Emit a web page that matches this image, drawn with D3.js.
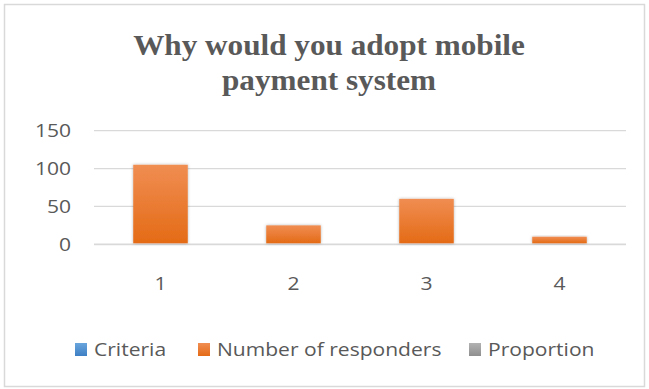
<!DOCTYPE html>
<html>
<head>
<meta charset="utf-8">
<script src="https://cdn.jsdelivr.net/npm/d3@7"></script>
<style>
  body { margin: 0; background: #ffffff; }
</style>
</head>
<body>
<svg id="chart" width="649" height="389"></svg>
<script>
var categories = ['1', '2', '3', '4'];
var responders = [105, 25, 60, 10];
var yTicks = [0, 50, 100, 150];
var legendNames = ['Criteria', 'Number of responders', 'Proportion'];
var titleLines = ['Why would you adopt mobile', 'payment system'];

var svg = d3.select('#chart');
var width = +svg.attr('width');
var height = +svg.attr('height');

var defs = svg.append('defs');

function addGradient(id, top, bottom) {
  var g = defs.append('linearGradient')
    .attr('id', id)
    .attr('x1', 0).attr('y1', 0)
    .attr('x2', 0).attr('y2', 1);
  g.append('stop').attr('offset', '0%').attr('stop-color', top);
  g.append('stop').attr('offset', '100%').attr('stop-color', bottom);
}
addGradient('grad-blue', '#6aa5dd', '#3d7fc4');
addGradient('grad-orange', '#f08d52', '#e46b16');
addGradient('grad-gray', '#b2b2b2', '#8f8f8f');

var shadow = defs.append('filter')
  .attr('id', 'shadow')
  .attr('x', '-20%').attr('y', '-20%')
  .attr('width', '140%').attr('height', '140%');
shadow.append('feDropShadow')
  .attr('dx', 0).attr('dy', 0)
  .attr('stdDeviation', 1.5)
  .attr('flood-color', '#000000')
  .attr('flood-opacity', 0.3);

// outer frame
svg.append('rect')
  .attr('x', 4.5)
  .attr('y', 4.5)
  .attr('width', 640)
  .attr('height', 382)
  .style('fill', '#ffffff')
  .style('stroke', '#d9d9d9')
  .style('stroke-width', 1.5);

// title (source picture is slightly stretched sideways)
svg.append('g')
  .attr('transform', 'translate(329,55) scale(1.04,1)')
  .append('text')
  .attr('class', 'title-text')
  .style('text-anchor', 'middle')
  .style('font-family', '"Liberation Serif", "Times New Roman", serif')
  .style('font-size', '30px')
  .style('font-weight', 'bold')
  .style('fill', '#595959')
  .selectAll('tspan')
  .data(titleLines)
  .enter().append('tspan')
  .attr('x', 0)
  .attr('dy', function(d, i) { return i === 0 ? 0 : 35; })
  .text(function(d) { return d; });

var x = d3.scaleBand()
  .domain(categories)
  .range([94, 626])
  .paddingInner(0.59)
  .paddingOuter(0.295);

var y = d3.scaleLinear()
  .domain([0, 150])
  .range([244.3, 130.7]);

// gridlines
svg.selectAll('.grid-line')
  .data(yTicks)
  .enter().append('line')
  .attr('class', 'grid-line')
  .attr('x1', 94)
  .attr('x2', 626)
  .attr('y1', function(d) { return y(d); })
  .attr('y2', function(d) { return y(d); })
  .style('stroke', '#d9d9d9')
  .style('stroke-width', function(d) { return d === 0 ? 1.8 : 1.3; });

function styleLabels(g) {
  g.select('.domain').remove();
  g.selectAll('text')
    .style('font-family', '"Open Sans", sans-serif')
    .style('font-size', '18px')
    .style('fill', '#595959');
}

// y axis labels
var yAxis = d3.axisLeft(y)
  .tickValues(yTicks)
  .tickSize(0)
  .tickPadding(0);

svg.append('g')
  .attr('transform', 'translate(71,0)')
  .call(yAxis)
  .call(styleLabels)
  .selectAll('.tick text')
  .attr('transform', 'scale(1.17,1)')
  .attr('x', 0);

// x axis labels
var xAxis = d3.axisBottom(x).tickSize(0).tickPadding(0);
svg.append('g')
  .attr('transform', 'translate(0,277)')
  .call(xAxis)
  .call(styleLabels)
  .selectAll('.tick text')
  .attr('transform', 'scale(1.17,1)');

// bars
svg.selectAll('.bar')
  .data(responders)
  .enter().append('rect')
  .attr('class', 'bar')
  .attr('x', function(d, i) { return x(categories[i]); })
  .attr('width', x.bandwidth())
  .attr('y', function(d) { return y(d); })
  .attr('height', function(d) { return y(0) - y(d) - 1; })
  .style('fill', 'url(#grad-orange)')
  .attr('filter', 'url(#shadow)');

// legend
var legendX = [75, 198, 469];
var legendFills = ['url(#grad-blue)', 'url(#grad-orange)', 'url(#grad-gray)'];

var legend = svg.selectAll('.legend-item')
  .data(legendNames)
  .enter().append('g')
  .attr('class', 'legend-item')
  .attr('transform', function(d, i) {
    return 'translate(' + legendX[i] + ',343)';
  });

legend.append('rect')
  .attr('width', 12)
  .attr('height', 13)
  .style('fill', function(d, i) { return legendFills[i]; });

legend.append('text')
  .attr('transform', 'translate(19,13) scale(1.17,1)')
  .style('font-family', '"Open Sans", sans-serif')
  .style('font-size', '18px')
  .style('fill', '#595959')
  .text(function(d) { return d; });
</script>
</body>
</html>
